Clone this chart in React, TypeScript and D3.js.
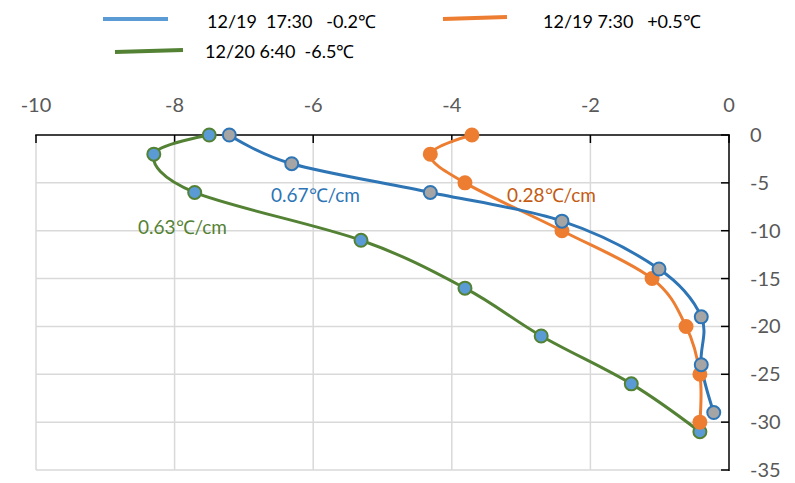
import React, { useEffect, useRef } from "react";
import * as d3 from "d3";

const xTicks = [-10, -8, -6, -4, -2, 0];
const yTicks = [0, -5, -10, -15, -20, -25, -30, -35];

const depthBlue = [0, -3, -6, -9, -14, -19, -24, -29];
const tempBlue = [-7.21, -6.31, -4.31, -2.41, -1.01, -0.4, -0.4, -0.22];

const depthOrange = [0, -2, -5, -10, -15, -20, -25, -30];
const tempOrange = [-3.71, -4.31, -3.81, -2.41, -1.11, -0.62, -0.42, -0.42];

const depthGreen = [0, -2, -6, -11, -16, -21, -26, -31];
const tempGreen = [-7.5, -8.3, -7.71, -5.31, -3.81, -2.71, -1.41, -0.42];

const seriesNames = ["12/19  17:30   -0.2℃", "12/19 7:30   +0.5℃", "12/20 6:40  -6.5℃"];
const annotations = ["0.67℃/cm", "0.28℃/cm", "0.63℃/cm"];

export default function App() {
  const ref = useRef<SVGSVGElement | null>(null);
  useEffect(() => {
    const svg = d3.select(ref.current);
    svg.selectAll("*").remove();
    const W = 795, H = 483;
    const left = 36, right = 729, top = 135, bottom = 470;
    const x = d3.scaleLinear().domain([-10, 0]).range([left, right]);
    const y = d3.scaleLinear().domain([0, -35]).range([top, bottom]);
    const font = "Lato, 'Open Sans', sans-serif";

    svg.append("rect").attr("width", W).attr("height", H).attr("fill", "#fff");

    // grid
    const g = svg.append("g");
    xTicks.slice(0, -1).forEach((t) => {
      g.append("line").attr("x1", x(t)).attr("x2", x(t)).attr("y1", top).attr("y2", bottom)
        .attr("stroke", "#d9d9d9").attr("stroke-width", 1.5);
    });
    yTicks.slice(1).forEach((t) => {
      g.append("line").attr("x1", left).attr("x2", right).attr("y1", y(t)).attr("y2", y(t))
        .attr("stroke", "#d9d9d9").attr("stroke-width", 1.5);
    });

    // axes
    g.append("line").attr("x1", left - 0.75).attr("x2", right + 1).attr("y1", top).attr("y2", top)
      .attr("stroke", "#000").attr("stroke-width", 1.5);
    g.append("line").attr("x1", right).attr("x2", right).attr("y1", top).attr("y2", bottom + 1)
      .attr("stroke", "#000").attr("stroke-width", 1.5);
    xTicks.forEach((t) => {
      g.append("line").attr("x1", x(t)).attr("x2", x(t)).attr("y1", top).attr("y2", top + 8)
        .attr("stroke", "#000").attr("stroke-width", 1.5);
      g.append("text").attr("x", x(t)).attr("y", 112).attr("text-anchor", "middle")
        .attr("font-family", font).attr("font-size", 20).attr("fill", "#595959").text(String(t));
    });
    yTicks.forEach((t) => {
      g.append("line").attr("x1", right - 8).attr("x2", right).attr("y1", y(t)).attr("y2", y(t))
        .attr("stroke", "#000").attr("stroke-width", 1.5);
      g.append("text").attr("x", 750).attr("y", y(t) + 7).attr("text-anchor", "start")
        .attr("font-family", font).attr("font-size", 20).attr("fill", "#595959").text(String(t));
    });

    const series = [
      { temps: tempBlue, depths: depthBlue, line: "#2e75b6", fill: "#a5a5a5", stroke: "#2e75b6" },
      { temps: tempOrange, depths: depthOrange, line: "#ed7d31", fill: "#ed7d31", stroke: "#ed7d31" },
      { temps: tempGreen, depths: depthGreen, line: "#548235", fill: "#5b9bd5", stroke: "#548235" },
    ];
    const lineGen = d3.line<[number, number]>()
      .x((d) => x(d[0])).y((d) => y(d[1]))
      .curve(d3.curveCardinal.tension(0));

    [2, 1, 0].forEach((i) => {
      const s = series[i];
      const pts: [number, number][] = s.temps.map((t, k) => [t, s.depths[k]]);
      svg.append("path").attr("d", lineGen(pts) as string).attr("fill", "none")
        .attr("stroke", s.line).attr("stroke-width", 3);
    });
    [2, 1, 0].forEach((i) => {
      const s = series[i];
      s.temps.forEach((t, k) => {
        svg.append("circle").attr("cx", x(t)).attr("cy", y(s.depths[k])).attr("r", 6.5)
          .attr("fill", s.fill).attr("stroke", s.stroke).attr("stroke-width", 2);
      });
    });

    // annotations
    const ann = [
      { text: annotations[0], px: 271, py: 202, color: "#2e75b6" },
      { text: annotations[1], px: 507, py: 202, color: "#c55a11" },
      { text: annotations[2], px: 138, py: 234, color: "#548235" },
    ];
    ann.forEach((a) => {
      svg.append("text").attr("x", a.px).attr("y", a.py).attr("font-family", font)
        .attr("font-size", 19).attr("fill", a.color).text(a.text);
    });

    // legend
    const legend = [
      { x1: 103, x2: 168, y1: 19, y2: 19, color: "#5b9bd5", tx: 207, ty: 28, text: seriesNames[0] },
      { x1: 443, x2: 507, y1: 19, y2: 17, color: "#ed7d31", tx: 543, ty: 28, text: seriesNames[1] },
      { x1: 115, x2: 183, y1: 52, y2: 50, color: "#548235", tx: 205, ty: 58, text: seriesNames[2] },
    ];
    legend.forEach((l) => {
      svg.append("line").attr("x1", l.x1).attr("x2", l.x2).attr("y1", l.y1).attr("y2", l.y2)
        .attr("stroke", l.color).attr("stroke-width", 4);
      svg.append("text").attr("x", l.tx).attr("y", l.ty).attr("font-family", font)
        .attr("font-size", 18).attr("fill", "#000").style("white-space", "pre").text(l.text);
    });
  }, []);
  return (
    <svg ref={ref} width={795} height={483}
      style={{ position: "absolute", left: 0, top: 0, display: "block" }} />
  );
}
